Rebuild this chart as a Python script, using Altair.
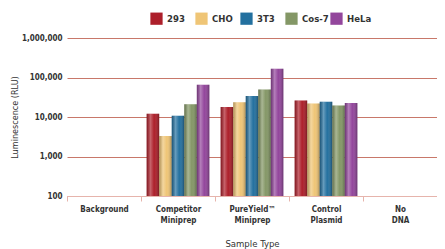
import altair as alt
import pandas as pd

categories = ["Background", "Competitor|Miniprep", "PureYield™|Miniprep", "Control|Plasmid", "No|DNA"]
series = ["293", "CHO", "3T3", "Cos-7", "HeLa"]
colors = ["#ad1f2a", "#efc576", "#23709f", "#849766", "#93469c"]

competitor = [12000, 3300, 10800, 21000, 66000]
pureyield = [18000, 23500, 34000, 50000, 167000]
control = [26000, 22000, 24500, 19500, 22500]
baseline = 100

rows = []
for cat, vals in [("Competitor|Miniprep", competitor), ("PureYield™|Miniprep", pureyield), ("Control|Plasmid", control)]:
    for s, v in zip(series, vals):
        rows.append({"cat": cat, "series": s, "value": v, "base": baseline})
df = pd.DataFrame(rows)

FONT = "DejaVu Sans Condensed"

x = alt.X("cat:N", scale=alt.Scale(domain=categories, paddingInner=0, paddingOuter=0),
          sort=categories,
          axis=alt.Axis(title="Sample Type", labelAngle=0, labelExpr="split(datum.label, '|')",
                        tickBand="extent", tickColor="#e6b4ac", tickSize=5,
                        domainColor="#e6b4ac", labelFont=FONT, labelFontWeight="bold",
                        labelFontSize=8, labelColor="#333333", labelPadding=4,
                        titleFont=FONT, titleFontSize=9.5, titleFontWeight="normal",
                        titleColor="#333333", titlePadding=14, labelLineHeight=11))
xo = alt.XOffset("series:N", scale=alt.Scale(domain=series, paddingInner=0, paddingOuter=0.45))
y = alt.Y("value:Q", scale=alt.Scale(type="log", domain=[100, 1000000]),
          axis=alt.Axis(title="Luminescence (RLU)", values=[100, 1000, 10000, 100000, 1000000],
                        format=",", ticks=False, domain=False, gridColor="#c8786a",
                        labelFont=FONT, labelFontWeight="bold", labelFontSize=8,
                        labelColor="#333333", labelPadding=5,
                        titleFont=FONT, titleFontSize=9, titleFontWeight="normal",
                        titleColor="#333333", titlePadding=2))
y2 = alt.Y2("base:Q")

bars = alt.Chart(df).mark_bar().encode(
    x=x, xOffset=xo, y=y, y2=y2,
    color=alt.Color("series:N", scale=alt.Scale(domain=series, range=colors),
                    legend=alt.Legend(title=None, orient="none", legendX=83, legendY=-26,
                                      direction="horizontal", columns=5, gridAlign="all",
                                      symbolType="square", symbolSize=150, symbolStrokeWidth=0,
                                      labelFont=FONT, labelFontWeight="bold", labelFontSize=9.5,
                                      labelColor="#333333", columnPadding=1, labelOffset=4)),
)

shade = alt.Chart(df).mark_bar(
    color=alt.Gradient(gradient="linear", x1=0, x2=1, y1=0, y2=0,
                       stops=[alt.GradientStop(offset=0, color="rgba(0,0,0,0.25)"),
                              alt.GradientStop(offset=0.3, color="rgba(255,255,255,0.3)"),
                              alt.GradientStop(offset=0.6, color="rgba(255,255,255,0.0)"),
                              alt.GradientStop(offset=1, color="rgba(0,0,0,0.3)")])
).encode(x=x, xOffset=xo, y=y, y2=y2)

chart = alt.layer(bars, shade).properties(
    width=370, height=158,
    autosize=alt.AutoSizeParams(type="none"),
    padding={"left": 59, "top": 30, "right": 0, "bottom": 58},
).configure_view(stroke=None).configure_axisY(grid=True).configure_axisX(grid=False)

chart.save("out.html", embed_options={"renderer": "svg", "actions": False})
